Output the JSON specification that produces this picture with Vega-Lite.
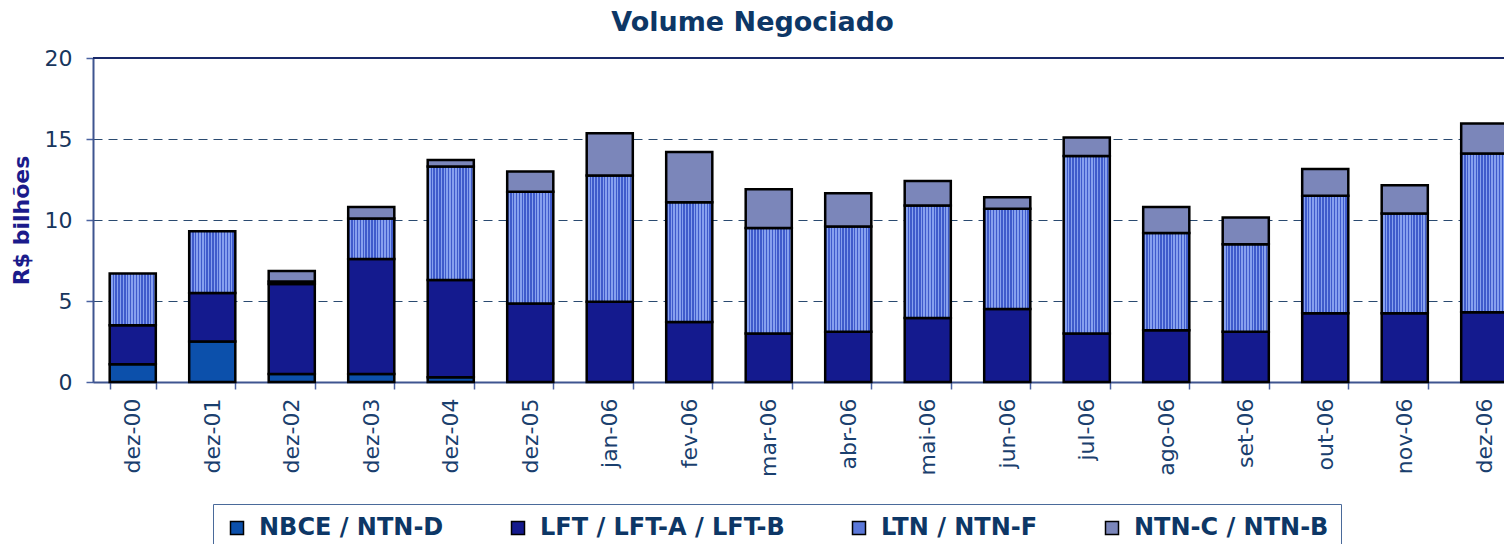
{
  "$schema": "https://vega.github.io/schema/vega-lite/v6.json",
  "autosize": {"type": "none"},
  "width": 1411,
  "height": 324,
  "padding": {"left": 93, "top": 58, "right": 0, "bottom": 162},
  "background": "white",
  "config": {"view": {"stroke": null}, "font": "DejaVu Sans"},
  "title": {
    "text": "Volume Negociado",
    "font": "DejaVu Sans",
    "fontSize": 27,
    "fontWeight": "bold",
    "color": "#0d3766",
    "anchor": "middle",
    "frame": "group",
    "dx": -46,
    "offset": 10
  },
  "data": {
    "values": [
      {"m": "dez-00", "s": "NBCE / NTN-D", "k": 1, "v": 1.1},
      {"m": "dez-00", "s": "LFT / LFT-A / LFT-B", "k": 2, "v": 2.4},
      {"m": "dez-00", "s": "LTN / NTN-F", "k": 3, "v": 3.2},
      {"m": "dez-01", "s": "NBCE / NTN-D", "k": 1, "v": 2.5},
      {"m": "dez-01", "s": "LFT / LFT-A / LFT-B", "k": 2, "v": 3.0},
      {"m": "dez-01", "s": "LTN / NTN-F", "k": 3, "v": 3.8},
      {"m": "dez-02", "s": "NBCE / NTN-D", "k": 1, "v": 0.5},
      {"m": "dez-02", "s": "LFT / LFT-A / LFT-B", "k": 2, "v": 5.55},
      {"m": "dez-02", "s": "LTN / NTN-F", "k": 3, "v": 0.15},
      {"m": "dez-02", "s": "NTN-C / NTN-B", "k": 4, "v": 0.65},
      {"m": "dez-03", "s": "NBCE / NTN-D", "k": 1, "v": 0.5},
      {"m": "dez-03", "s": "LFT / LFT-A / LFT-B", "k": 2, "v": 7.1},
      {"m": "dez-03", "s": "LTN / NTN-F", "k": 3, "v": 2.5},
      {"m": "dez-03", "s": "NTN-C / NTN-B", "k": 4, "v": 0.7},
      {"m": "dez-04", "s": "NBCE / NTN-D", "k": 1, "v": 0.3},
      {"m": "dez-04", "s": "LFT / LFT-A / LFT-B", "k": 2, "v": 6.0},
      {"m": "dez-04", "s": "LTN / NTN-F", "k": 3, "v": 7.0},
      {"m": "dez-04", "s": "NTN-C / NTN-B", "k": 4, "v": 0.4},
      {"m": "dez-05", "s": "LFT / LFT-A / LFT-B", "k": 2, "v": 4.85},
      {"m": "dez-05", "s": "LTN / NTN-F", "k": 3, "v": 6.9},
      {"m": "dez-05", "s": "NTN-C / NTN-B", "k": 4, "v": 1.25},
      {"m": "jan-06", "s": "LFT / LFT-A / LFT-B", "k": 2, "v": 4.95},
      {"m": "jan-06", "s": "LTN / NTN-F", "k": 3, "v": 7.8},
      {"m": "jan-06", "s": "NTN-C / NTN-B", "k": 4, "v": 2.6},
      {"m": "fev-06", "s": "LFT / LFT-A / LFT-B", "k": 2, "v": 3.7},
      {"m": "fev-06", "s": "LTN / NTN-F", "k": 3, "v": 7.4},
      {"m": "fev-06", "s": "NTN-C / NTN-B", "k": 4, "v": 3.1},
      {"m": "mar-06", "s": "LFT / LFT-A / LFT-B", "k": 2, "v": 3.0},
      {"m": "mar-06", "s": "LTN / NTN-F", "k": 3, "v": 6.5},
      {"m": "mar-06", "s": "NTN-C / NTN-B", "k": 4, "v": 2.4},
      {"m": "abr-06", "s": "LFT / LFT-A / LFT-B", "k": 2, "v": 3.1},
      {"m": "abr-06", "s": "LTN / NTN-F", "k": 3, "v": 6.5},
      {"m": "abr-06", "s": "NTN-C / NTN-B", "k": 4, "v": 2.05},
      {"m": "mai-06", "s": "LFT / LFT-A / LFT-B", "k": 2, "v": 3.95},
      {"m": "mai-06", "s": "LTN / NTN-F", "k": 3, "v": 6.95},
      {"m": "mai-06", "s": "NTN-C / NTN-B", "k": 4, "v": 1.5},
      {"m": "jun-06", "s": "LFT / LFT-A / LFT-B", "k": 2, "v": 4.5},
      {"m": "jun-06", "s": "LTN / NTN-F", "k": 3, "v": 6.2},
      {"m": "jun-06", "s": "NTN-C / NTN-B", "k": 4, "v": 0.7},
      {"m": "jul-06", "s": "LFT / LFT-A / LFT-B", "k": 2, "v": 3.0},
      {"m": "jul-06", "s": "LTN / NTN-F", "k": 3, "v": 10.95},
      {"m": "jul-06", "s": "NTN-C / NTN-B", "k": 4, "v": 1.15},
      {"m": "ago-06", "s": "LFT / LFT-A / LFT-B", "k": 2, "v": 3.2},
      {"m": "ago-06", "s": "LTN / NTN-F", "k": 3, "v": 6.0},
      {"m": "ago-06", "s": "NTN-C / NTN-B", "k": 4, "v": 1.6},
      {"m": "set-06", "s": "LFT / LFT-A / LFT-B", "k": 2, "v": 3.1},
      {"m": "set-06", "s": "LTN / NTN-F", "k": 3, "v": 5.4},
      {"m": "set-06", "s": "NTN-C / NTN-B", "k": 4, "v": 1.65},
      {"m": "out-06", "s": "LFT / LFT-A / LFT-B", "k": 2, "v": 4.25},
      {"m": "out-06", "s": "LTN / NTN-F", "k": 3, "v": 7.25},
      {"m": "out-06", "s": "NTN-C / NTN-B", "k": 4, "v": 1.65},
      {"m": "nov-06", "s": "LFT / LFT-A / LFT-B", "k": 2, "v": 4.25},
      {"m": "nov-06", "s": "LTN / NTN-F", "k": 3, "v": 6.15},
      {"m": "nov-06", "s": "NTN-C / NTN-B", "k": 4, "v": 1.75},
      {"m": "dez-06", "s": "LFT / LFT-A / LFT-B", "k": 2, "v": 4.3},
      {"m": "dez-06", "s": "LTN / NTN-F", "k": 3, "v": 9.8},
      {"m": "dez-06", "s": "NTN-C / NTN-B", "k": 4, "v": 1.85}
    ]
  },
  "layer": [
    {
      "mark": {"type": "bar", "stroke": "black", "strokeWidth": 2.5, "strokeJoin": "miter"},
      "encoding": {
        "x": {
          "field": "m",
          "type": "ordinal",
          "sort": null,
          "scale": {"range": [0, 1431], "paddingInner": 0.42, "paddingOuter": 0.21},
          "axis": {
            "title": null,
            "labelAngle": -90,
            "labelFont": "DejaVu Sans",
            "labelFontSize": 22,
            "labelColor": "#1a3f6e",
            "labelPadding": 9,
            "tickBand": "extent",
            "tickSize": 7,
            "tickColor": "#4a62a0",
            "tickWidth": 1.5,
            "domainColor": "#3f5590",
            "domainWidth": 2,
            "grid": false
          }
        },
        "y": {
          "field": "v",
          "type": "quantitative",
          "stack": "zero",
          "scale": {"domain": [0, 20], "nice": false},
          "axis": {
            "title": "R$ bilhões",
            "titleFont": "DejaVu Sans",
            "titleFontSize": 22,
            "titleFontWeight": "bold",
            "titleColor": "#1b1b8b",
            "titlePadding": 11,
            "values": [0, 5, 10, 15, 20],
            "labelFont": "DejaVu Sans",
            "labelFontSize": 22,
            "labelColor": "#17365d",
            "labelPadding": 14,
            "tickSize": 7,
            "tickColor": "#4a62a0",
            "tickWidth": 1.5,
            "domainColor": "#3f5590",
            "domainWidth": 2,
            "grid": true,
            "gridColor": "#2a4a70",
            "gridDash": [9, 6],
            "gridWidth": 1.2
          }
        },
        "color": {
          "condition": {
            "test": "datum.s === 'LTN / NTN-F'",
            "value": {
              "gradient": "linear",
              "x1": 0, "y1": 0, "x2": 1, "y2": 0,
              "stops": [
                {"offset": 0.0, "color": "#3f5bcb"}, {"offset": 0.03125, "color": "#3f5bcb"},
                {"offset": 0.03125, "color": "#86a0ee"}, {"offset": 0.0625, "color": "#86a0ee"},
                {"offset": 0.0625, "color": "#3f5bcb"}, {"offset": 0.09375, "color": "#3f5bcb"},
                {"offset": 0.09375, "color": "#86a0ee"}, {"offset": 0.125, "color": "#86a0ee"},
                {"offset": 0.125, "color": "#3f5bcb"}, {"offset": 0.15625, "color": "#3f5bcb"},
                {"offset": 0.15625, "color": "#86a0ee"}, {"offset": 0.1875, "color": "#86a0ee"},
                {"offset": 0.1875, "color": "#3f5bcb"}, {"offset": 0.21875, "color": "#3f5bcb"},
                {"offset": 0.21875, "color": "#86a0ee"}, {"offset": 0.25, "color": "#86a0ee"},
                {"offset": 0.25, "color": "#3f5bcb"}, {"offset": 0.28125, "color": "#3f5bcb"},
                {"offset": 0.28125, "color": "#86a0ee"}, {"offset": 0.3125, "color": "#86a0ee"},
                {"offset": 0.3125, "color": "#3f5bcb"}, {"offset": 0.34375, "color": "#3f5bcb"},
                {"offset": 0.34375, "color": "#86a0ee"}, {"offset": 0.375, "color": "#86a0ee"},
                {"offset": 0.375, "color": "#3f5bcb"}, {"offset": 0.40625, "color": "#3f5bcb"},
                {"offset": 0.40625, "color": "#86a0ee"}, {"offset": 0.4375, "color": "#86a0ee"},
                {"offset": 0.4375, "color": "#3f5bcb"}, {"offset": 0.46875, "color": "#3f5bcb"},
                {"offset": 0.46875, "color": "#86a0ee"}, {"offset": 0.5, "color": "#86a0ee"},
                {"offset": 0.5, "color": "#3f5bcb"}, {"offset": 0.53125, "color": "#3f5bcb"},
                {"offset": 0.53125, "color": "#86a0ee"}, {"offset": 0.5625, "color": "#86a0ee"},
                {"offset": 0.5625, "color": "#3f5bcb"}, {"offset": 0.59375, "color": "#3f5bcb"},
                {"offset": 0.59375, "color": "#86a0ee"}, {"offset": 0.625, "color": "#86a0ee"},
                {"offset": 0.625, "color": "#3f5bcb"}, {"offset": 0.65625, "color": "#3f5bcb"},
                {"offset": 0.65625, "color": "#86a0ee"}, {"offset": 0.6875, "color": "#86a0ee"},
                {"offset": 0.6875, "color": "#3f5bcb"}, {"offset": 0.71875, "color": "#3f5bcb"},
                {"offset": 0.71875, "color": "#86a0ee"}, {"offset": 0.75, "color": "#86a0ee"},
                {"offset": 0.75, "color": "#3f5bcb"}, {"offset": 0.78125, "color": "#3f5bcb"},
                {"offset": 0.78125, "color": "#86a0ee"}, {"offset": 0.8125, "color": "#86a0ee"},
                {"offset": 0.8125, "color": "#3f5bcb"}, {"offset": 0.84375, "color": "#3f5bcb"},
                {"offset": 0.84375, "color": "#86a0ee"}, {"offset": 0.875, "color": "#86a0ee"},
                {"offset": 0.875, "color": "#3f5bcb"}, {"offset": 0.90625, "color": "#3f5bcb"},
                {"offset": 0.90625, "color": "#86a0ee"}, {"offset": 0.9375, "color": "#86a0ee"},
                {"offset": 0.9375, "color": "#3f5bcb"}, {"offset": 0.96875, "color": "#3f5bcb"},
                {"offset": 0.96875, "color": "#86a0ee"}, {"offset": 1.0, "color": "#86a0ee"}
              ]
            }
          },
          "field": "s",
          "type": "nominal",
          "scale": {
            "domain": ["NBCE / NTN-D", "LFT / LFT-A / LFT-B", "LTN / NTN-F", "NTN-C / NTN-B"],
            "range": ["#0c50ab", "#141a8e", "#5b78d9", "#7b86ba"]
          },
          "legend": {
            "title": null,
            "orient": "none",
            "legendX": 120,
            "legendY": 446,
            "direction": "horizontal",
            "columns": 4,
            "columnPadding": 62,
            "padding": 12,
            "strokeColor": "#4a6a9a",
            "fillColor": "white",
            "symbolType": "square",
            "symbolSize": 169,
            "symbolStrokeColor": "black",
            "symbolStrokeWidth": 1.5,
            "symbolOpacity": 1,
            "labelFont": "DejaVu Sans",
            "labelFontWeight": "bold",
            "labelFontSize": 24,
            "labelColor": "#0d3766",
            "labelOffset": 10,
            "labelLimit": 400
          }
        },
        "order": {"field": "k"}
      }
    },
    {
      "mark": {"type": "rule", "color": "#1a2a6a", "strokeWidth": 1.5},
      "encoding": {"y": {"datum": 20}}
    }
  ]
}
